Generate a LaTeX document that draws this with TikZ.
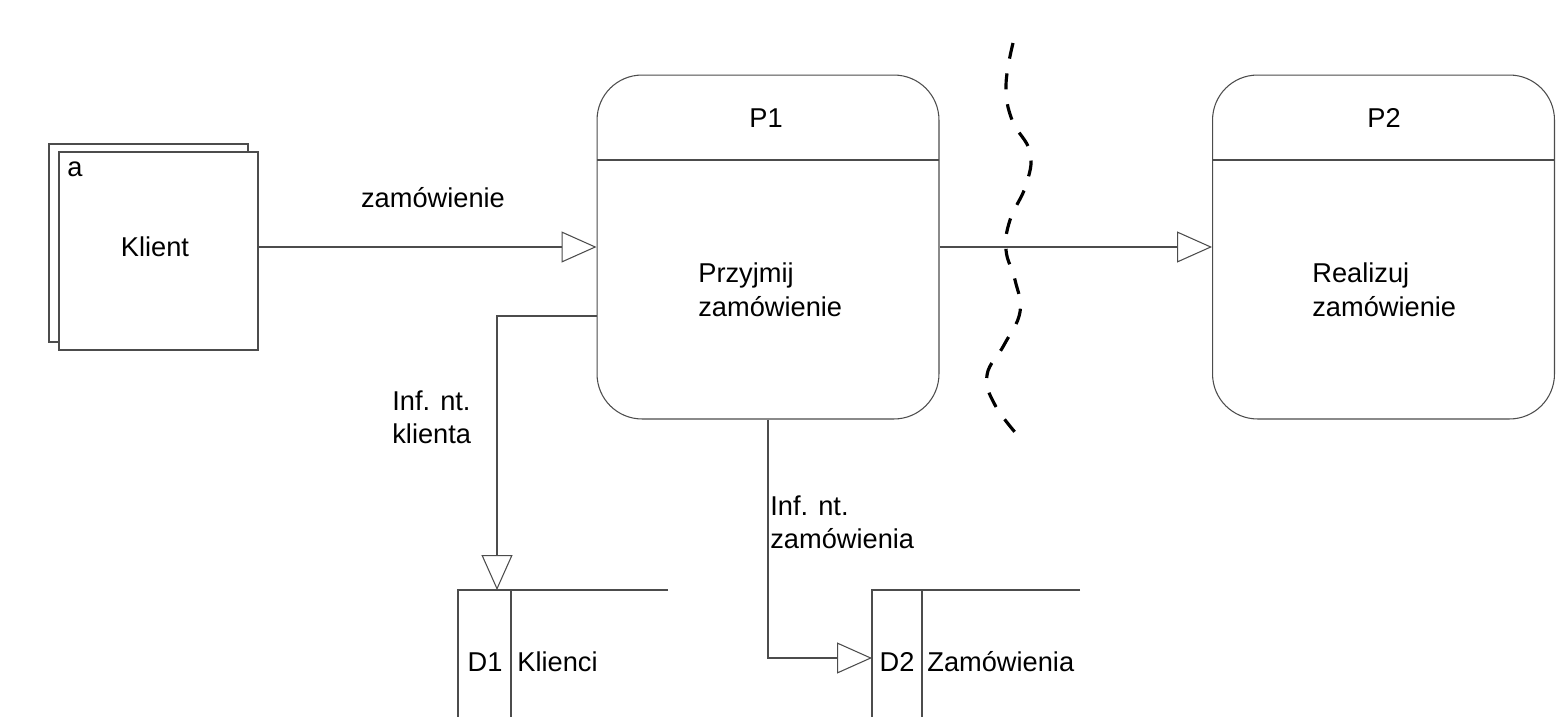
\documentclass[tikz,border=0pt]{standalone}
\usepackage{fontspec}
\setmainfont{Liberation Sans}
\usetikzlibrary{arrows.meta}
\begin{document}
\begin{tikzpicture}[x=0.02cm,y=-0.02cm,
  every node/.style={font=\fontsize{15.5}{19.3}\selectfont, inner sep=0pt},
  ln/.style={draw=black!70, line width=0.6pt},
  flow/.style={ln, -{Triangle[open,length=0.7cm,width=0.62cm,line width=0.6pt]}},
  ent/.style={ln, fill=white, minimum width=3.98cm, minimum height=3.96cm},
  proc/.style={ln, rounded corners=0.9cm, minimum width=6.84cm, minimum height=6.88cm},
  lbl/.style={align=left, anchor=north west}
]
\useasboundingbox (0,0) rectangle (1557,717);
\fill[white] (0,0) rectangle (1557,717);

% external entity
\node[ent] (kback) at (148.5,243) {};
\node[ent] (klient) at (158.5,251) {};
\node at (155,247) {Klient};
\node (ka) at (75,169) {a};

% processes
\node[proc] (p1) at (768,247) {};
\draw[ln] (597,160) -- (939,160);
\node (p1id) at (766,118) {P1};
\node[lbl] (p1t) at (698,262) {Przyjmij\\zamówienie};

\node[proc] (p2) at (1383.5,247) {};
\draw[ln] (1212,160) -- (1555,160);
\node (p2id) at (1384,118) {P2};
\node[lbl] (p2t) at (1312,262) {Realizuj\\zamówienie};

% data stores
\coordinate (d1top) at (497,590);
\draw[ln] (668,590) -- (458,590) -- (458,717);
\draw[ln] (511,590) -- (511,717);
\node (d1) at (485,662) {D1};
\node[anchor=west] (d1n) at (517,662) {Klienci};

\coordinate (d2left) at (872,658);
\draw[ln] (1080,590) -- (872,590) -- (872,717);
\draw[ln] (922,590) -- (922,717);
\node (d2) at (897,662) {D2};
\node[anchor=west] (d2n) at (927,662) {Zamówienia};

% flows
\draw[flow] (p1.west -| klient.east) -- (p1.west);
\node (f1) at (433,198) {zamówienie};

\draw[flow] (p1.east) -- (p2.west);

\coordinate (c1) at (597,316);
\coordinate (c2) at (497,316);
\draw[flow] (c1) -- (c2) -- (d1top);
\node[lbl] (f2) at (392,390) {Inf. nt.\\klienta};

\coordinate (c3) at (768,658);
\draw[flow] (p1.south) -- (c3) -- (d2left);
\node[lbl] (f3) at (770,495) {Inf. nt.\\zamówienia};

% boundary
\draw[black, line width=1.8pt, dash pattern=on 0.32cm off 0.3cm]
  plot[smooth, tension=0.7] coordinates {(1013,43) (1006,85) (1012,120) (1030,152) (1026,185) (1010,220) (1006,250) (1015,280) (1020,312) (1004,345) (987,375) (995,405) (1020,438)};
\end{tikzpicture}
\end{document}
